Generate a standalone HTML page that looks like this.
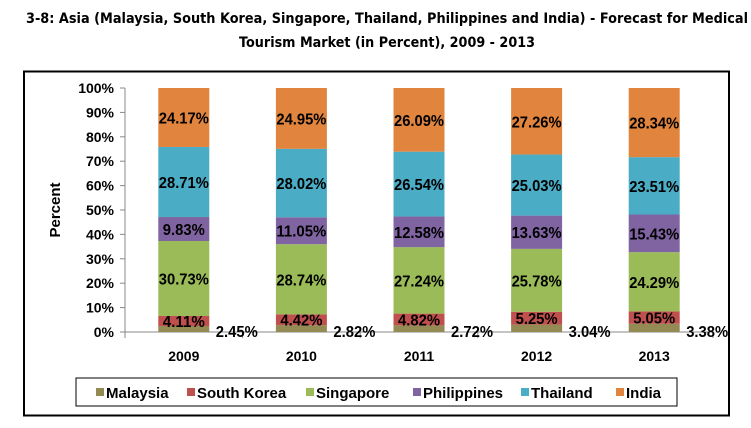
<!DOCTYPE html>
<html><head><style>body{margin:0;background:#fff}svg{display:block}</style></head><body>
<svg id="s" width="751" height="428" xmlns="http://www.w3.org/2000/svg" font-family="Liberation Sans, Arial, sans-serif">
<text x="387" y="23" text-anchor="middle" font-size="14" font-weight="bold" textLength="722" lengthAdjust="spacingAndGlyphs" font-family="DejaVu Sans, sans-serif">3-8: Asia (Malaysia, South Korea, Singapore, Thailand, Philippines and India) - Forecast for Medical</text>
<text x="387" y="47" text-anchor="middle" font-size="14" font-weight="bold" textLength="296" lengthAdjust="spacingAndGlyphs" font-family="DejaVu Sans, sans-serif">Tourism Market (in Percent), 2009 - 2013</text>
<rect x="24" y="71.5" width="705" height="344" fill="none" stroke="#000" stroke-width="2"/>
<rect x="76" y="378" width="601" height="28" fill="none" stroke="#000" stroke-width="1"/>
<g id="g"></g>
<text transform="translate(60,210) rotate(-90)" text-anchor="middle" font-size="15" font-weight="bold">Percent</text>
</svg>
<script>
var g=document.getElementById('g'),h='';
var d=[[2.45,2.82,2.72,3.04,3.38],[4.11,4.42,4.82,5.25,5.05],[30.73,28.74,27.24,25.78,24.29],[9.83,11.05,12.58,13.63,15.43],[28.71,28.02,26.54,25.03,23.51],[24.17,24.95,26.09,27.26,28.34]];
var c=['#948A54','#C0504D','#9BBB59','#8064A2','#4BACC6','#E0843E'];
var y0=332,k=2.44;
h+='<line x1="125" y1="88" x2="125" y2="332" stroke="#888"/><line x1="125" y1="332" x2="713" y2="332" stroke="#888"/>';
for(var i=0;i<=10;i++){var y=y0-i*10*k;h+='<line x1="120" x2="125" y1="'+y+'" y2="'+y+'" stroke="#888"/><text x="114" y="'+(y+5)+'" text-anchor="end" font-size="14" font-weight="bold">'+(i*10)+'%</text>';}
for(var j=0;j<=5;j++){var x=125+j*117.6;h+='<line x1="'+x+'" x2="'+x+'" y1="332" y2="338" stroke="#888"/>';}
function tl(s){return s.length==6?50:42;}
for(var j=0;j<5;j++){var cx=125+117.6*j+58.8,bx=cx-25.5,acc=0;
 for(var s=0;s<6;s++){var v=s==5?100-acc:d[s][j];var yt=y0-(acc+v)*k;h+='<rect x="'+bx+'" y="'+yt+'" width="51" height="'+(v*k)+'" fill="'+c[s]+'"/>';
  var t=d[s][j].toFixed(2)+'%';
  if(s==0)h+='<text x="'+(cx+32)+'" y="'+(y0+5)+'" font-size="16" font-weight="bold" textLength="'+tl(t)+'" lengthAdjust="spacingAndGlyphs">'+t+'</text>';
  else h+='<text x="'+cx+'" y="'+(yt+v*k/2+6)+'" text-anchor="middle" font-size="16" font-weight="bold" textLength="'+tl(t)+'" lengthAdjust="spacingAndGlyphs">'+t+'</text>';
  acc+=v;}
 h+='<text x="'+cx+'" y="361" text-anchor="middle" font-size="14" font-weight="bold">'+(2009+j)+'</text>';}
var L=[['Malaysia',96],['South Korea',187],['Singapore',306],['Philippines',413],['Thailand',521],['India',616]];
for(var s=0;s<6;s++){h+='<rect x="'+L[s][1]+'" y="388" width="8" height="8" fill="'+c[s]+'"/><text x="'+(L[s][1]+10)+'" y="398" font-size="15" font-weight="bold">'+L[s][0]+'</text>';}
g.innerHTML=h;
</script>
</body></html>
